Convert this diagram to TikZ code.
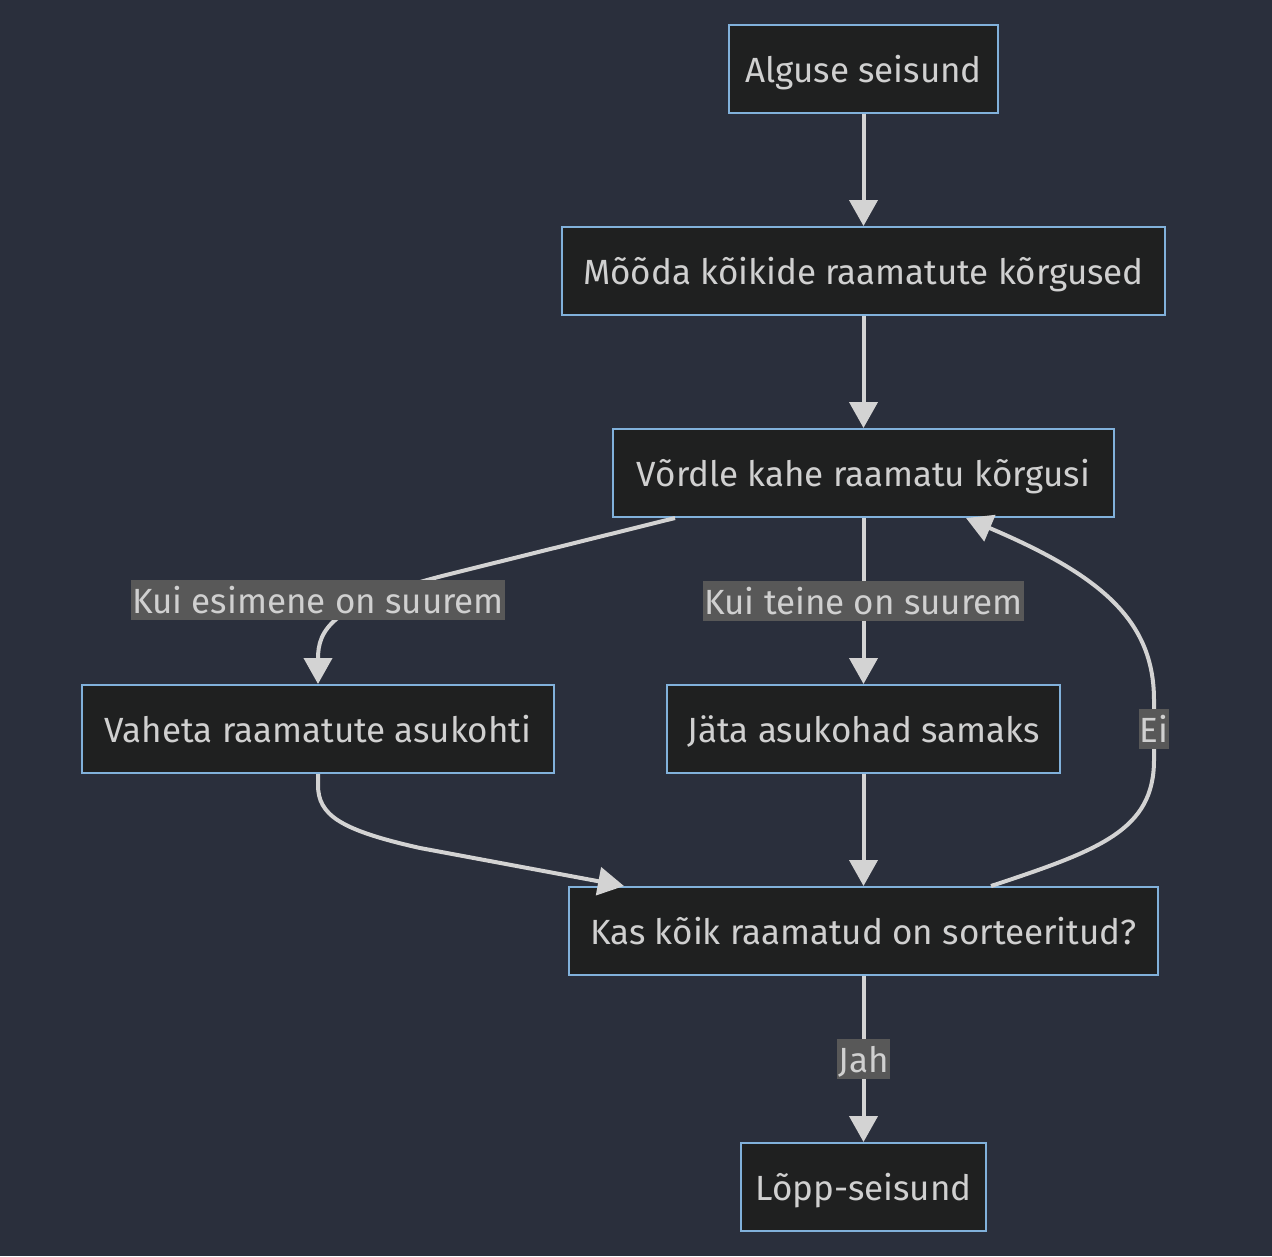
\documentclass[tikz,border=0pt]{standalone}
\usepackage{fontspec}
\setmainfont{Fira Sans}
\usetikzlibrary{arrows.meta}
\definecolor{bgcol}{RGB}{42,47,60}
\definecolor{boxfill}{HTML}{1F2020}
\definecolor{boxline}{HTML}{81B1DB}
\definecolor{textcol}{HTML}{D0D0D0}
\definecolor{edgecol}{HTML}{D3D3D3}
\definecolor{lblfill}{HTML}{585858}

\begin{document}
\begin{tikzpicture}[
  x=1pt, y=-1pt,
  every node/.style={font=\fontsize{35}{40}\selectfont, text=textcol, text height=27pt, text depth=0pt},
  flow_box/.style={rectangle, draw=boxline, line width=2pt, fill=boxfill, minimum height=88pt, inner sep=0pt},
  edge_label/.style={rectangle, fill=lblfill, minimum height=40pt, inner xsep=1pt, inner ysep=0pt},
  flow_edge/.style={draw=edgecol, line width=4pt, -{Triangle[length=26pt, width=28pt]}},
]
\fill[bgcol] (0,0) rectangle (1272,1256);

\node (alguse) [flow_box, minimum width=269pt] at (863.5,69) {Alguse seisund};
\node (mooda)  [flow_box, minimum width=603pt] at (863.5,271) {Mõõda kõikide raamatute kõrgused};
\node (vordle) [flow_box, minimum width=501pt] at (863.5,473) {Võrdle kahe raamatu kõrgusi};
\node (vaheta) [flow_box, minimum width=472pt] at (318,729) {Vaheta raamatute asukohti};
\node (jata)   [flow_box, minimum width=393pt] at (863.5,729) {Jäta asukohad samaks};
\node (kas)    [flow_box, minimum width=589pt] at (863.5,931) {Kas kõik raamatud on sorteeritud?};
\node (lopp)   [flow_box, minimum width=245pt] at (863.5,1187) {Lõpp-seisund};

\draw[flow_edge] (alguse) -- (mooda);
\draw[flow_edge] (mooda) -- (vordle);
\draw[flow_edge] ([xshift=63pt]vordle.south west) -- (450,574)
  .. controls (330,604) and (318,630) .. (vaheta.north);
\node (esimene) [edge_label] at (318,600) {Kui esimene on suurem};
\draw[flow_edge] (vordle) -- node (teine) [edge_label] {Kui teine on suurem} (jata);
\draw[flow_edge] (vaheta.south) -- (318,785)
  .. controls (318,815) and (340,830) .. (420,848) -- ([xshift=56pt]kas.north west);
\draw[flow_edge] (jata) -- (kas);
\draw[flow_edge] ([xshift=-168pt]kas.north east)
  .. controls (1100,850) and (1154,830) .. (1154,760) -- (1154,700)
  .. controls (1154,620) and (1100,575) .. ([xshift=-149pt]vordle.south east);
\node (ei) [edge_label] at (1154,729) {Ei};
\draw[flow_edge] (kas) -- node (jah) [edge_label] {Jah} (lopp);
\end{tikzpicture}
\end{document}
